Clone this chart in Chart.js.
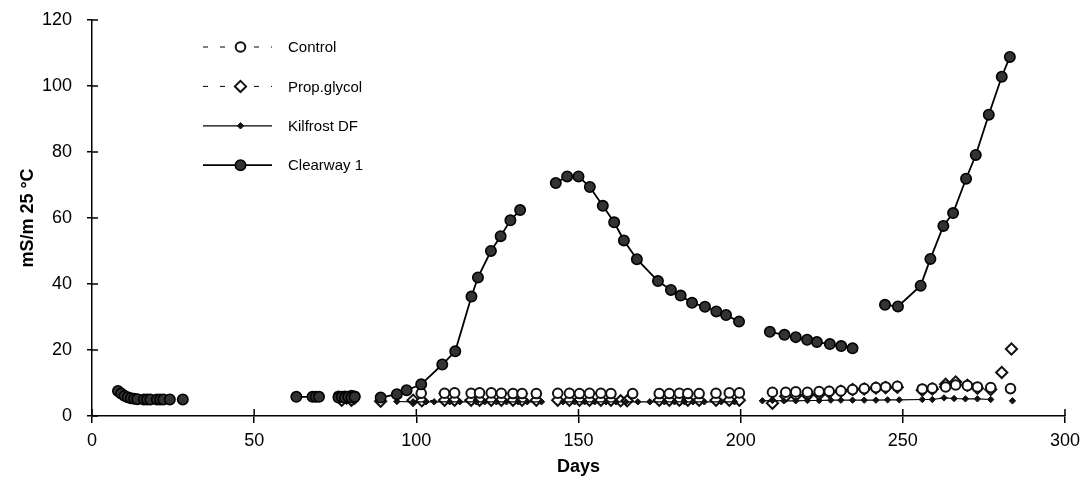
<!DOCTYPE html>
<html>
<head>
<meta charset="utf-8">
<script src="https://cdn.jsdelivr.net/npm/chart.js@4/dist/chart.umd.min.js"></script>
<style>
  html, body { margin: 0; padding: 0; background: #fff; }
  #wrap { width: 1087px; height: 492px; position: relative; }
</style>
</head>
<body>
<div id="wrap"><canvas id="c"></canvas></div>
<script>
// ---- Data (null = break in the line) ----
const seriesNames = ['Control', 'Prop.glycol', 'Kilfrost DF', 'Clearway 1'];

const xTicks = [0, 50, 100, 150, 200, 250, 300];
const yTicks = [0, 20, 40, 60, 80, 100, 120];

const clearDays = [8, 9, 10, 11, 12, 13, 14, 16, 17, 18, 20, 21, 22, 24, 26, 28, 45,
  63, 68, 69, 70, 73, 76, 77, 78, 79, 80, 81, 85,
  89, 94, 97, 101.5, 108, 112, 117, 119, 123, 126, 129, 132, 138,
  143, 146.5, 150, 153.5, 157.5, 161, 164, 168, 174.5, 178.5, 181.5, 185, 189, 192.5, 195.5, 199.5, 204,
  209, 213.5, 217, 220.5, 223.5, 227.5, 231, 234.5, 240,
  244.5, 248.5, 255.5, 258.5, 262.5, 265.5, 269.5, 272.5, 276.5, 280.5, 283];
const clearway = [7.6, 6.8, 6.1, 5.7, 5.4, 5.2, 5.1, 5.0, 5.0, 5.0, 5.0, 5.0, 5.0, 5.0, null, 5.0, null,
  5.8, 5.8, 5.8, 5.8, null, 5.6, 5.8, 5.6, 5.8, 5.6, 5.8, null,
  5.6, 6.6, 7.8, 9.6, 15.6, 19.6, 36.2, 42.0, 50.0, 54.5, 59.3, 62.4, null,
  70.6, 72.6, 72.6, 69.4, 63.7, 58.7, 53.2, 47.5, 40.9, 38.2, 36.5, 34.3, 33.1, 31.7, 30.6, 28.6, null,
  25.5, 24.6, 23.9, 23.1, 22.4, 21.8, 21.2, 20.5, null,
  33.7, 33.2, 39.5, 47.6, 57.6, 61.5, 71.9, 79.1, 91.3, 102.8, 108.8];

const controlDays = [76, 78, 80, 81, 85,
  101.5, 108.7, 111.8, 116.9, 119.5, 123.1, 126.2, 129.8, 132.6, 137, 140,
  143.6, 147.2, 150.3, 153.4, 156.9, 160, 163, 166.7, 170,
  174.9, 178, 181.1, 183.7, 187.2, 192.4, 196.5, 199.6, 205,
  209.8, 213.9, 217, 220.6, 224.2, 227.3, 230.9, 234.5, 238.1, 241.7, 244.7, 248.3, 252,
  256, 259.1, 263.2, 266.3, 269.9, 273, 277.1, 280, 283.2];
const control = [6.0, 6.0, 6.2, 6.0, null,
  6.9, 6.9, 7.0, 6.9, 7.0, 7.0, 6.9, 6.8, 6.8, 6.8, null,
  6.9, 6.9, 6.8, 6.9, 6.9, 6.8, null, 6.8, null,
  6.8, 6.8, 6.9, 6.8, 6.8, 6.9, 7.0, 7.0, null,
  7.2, 7.2, 7.3, 7.2, 7.4, 7.5, 7.6, 8.0, 8.3, 8.6, 8.8, 9.0, null,
  8.2, 8.4, 8.8, 9.4, 9.2, 8.8, 8.6, null, 8.3];

const propDays = [77, 80, 85, 89, 92,
  99, 101.7, 108.7, 111.8, 116.9, 119.5, 123.1, 126.2, 129.8, 132.6, 137, 140,
  143.6, 147.2, 150.3, 153.4, 156.9, 160, 163, 165, 170,
  174.9, 178, 181.1, 183.7, 187.2, 192.4, 196.5, 199.6, 205,
  209.8, 213.9, 217, 220.6, 224.2, 227.3, 230.9, 234.5, 238.1, 241.7, 244.7, 248.3, 252,
  256, 259.1, 263.2, 266.3, 269.9, 273, 277.1, 279, 280.5, 282, 283.5];
const propGlycol = [4.8, 4.8, null, 4.5, null,
  4.8, 4.6, 4.8, 4.8, 4.8, 4.8, 4.8, 4.8, 4.8, 4.8, 4.8, null,
  4.8, 4.8, 4.8, 4.8, 4.8, 4.8, 4.6, 4.6, null,
  4.8, 4.8, 4.8, 4.8, 4.8, 4.8, 4.8, 4.8, null,
  3.9, 6.0, 6.2, 6.3, 6.6, 7.2, 7.5, 8.0, 8.2, 8.5, 8.6, 8.7, null,
  7.8, 8.2, 9.6, 10.3, 9.3, 8.4, 8.0, null, 13.2, null, 20.3];

const kilDays = [78.5, 81, 85,
  94, 99, 103, 105.5, 110.3, 113.4, 118.5, 121.1, 124.7, 127.8, 131.4, 134.2, 138.6, 141,
  145.2, 148.8, 151.9, 155, 158.5, 161.6, 164.6, 168.3, 172, 176.5, 179.6, 182.7, 185.3, 188.8, 194, 198.1, 203,
  206.7, 209.8, 213.3, 217, 220.6, 224.2, 227.8, 230.9, 234.5, 238.1, 241.7, 245.3, 248.9,
  256, 259.1, 262.7, 265.8, 269.3, 273, 277.1, 280, 283.8];
const kilfrost = [4.4, 4.4, null,
  4.4, 4.3, 4.3, 4.3, 4.3, 4.3, 4.3, 4.3, 4.3, 4.3, 4.3, 4.3, 4.3, null,
  4.3, 4.3, 4.3, 4.3, 4.3, 4.3, 4.3, 4.3, 4.3, 4.3, 4.3, 4.3, 4.3, 4.3, 4.3, 4.3, null,
  4.6, 4.7, 4.6, 4.6, 4.7, 4.7, 4.8, 4.8, 4.8, 4.8, 4.8, 4.9, 4.9,
  5.0, 5.0, 5.5, 5.3, 5.2, 5.2, 5.0, null, 4.6];

function pts(days, vals) { return days.map((d, i) => ({ x: d, y: vals[i] })); }

const FONT = "'Liberation Sans', Arial, sans-serif";

// inward tick marks crossing the axes
const crossTicks = {
  id: 'crossTicks',
  afterDraw(chart) {
    const { ctx, chartArea: a, scales } = chart;
    ctx.save();
    ctx.strokeStyle = '#000';
    ctx.lineWidth = 1.5;
    ctx.beginPath();
    xTicks.forEach(v => {
      const px = scales.x.getPixelForValue(v);
      ctx.moveTo(px, a.bottom); ctx.lineTo(px, a.bottom - 7);
    });
    yTicks.forEach(v => {
      const py = scales.y.getPixelForValue(v);
      ctx.moveTo(a.left, py); ctx.lineTo(a.left + 6, py);
    });
    ctx.stroke();
    ctx.restore();
  }
};

// legend drawn inside the plot area
const innerLegend = {
  id: 'innerLegend',
  afterDraw(chart) {
    const { ctx, chartArea: a } = chart;
    const x0 = a.left + 111, lineLen = 69, textX = a.left + 196;
    ctx.save();
    chart.data.datasets.forEach((ds, i) => {
      const y = a.top + 27 + i * 39.4;
      ctx.beginPath();
      ctx.setLineDash(ds.borderDash || []);
      ctx.lineWidth = ds.borderWidth;
      ctx.strokeStyle = ds.borderColor;
      ctx.moveTo(x0, y); ctx.lineTo(x0 + lineLen, y);
      ctx.stroke();
      ctx.setLineDash([]);
      ctx.fillStyle = ds.pointBackgroundColor;
      ctx.strokeStyle = ds.pointBorderColor;
      ctx.lineWidth = ds.pointBorderWidth;
      ctx.beginPath();
      Chart.helpers.drawPoint(ctx, {
        pointStyle: ds.pointStyle, radius: ds.pointRadius, borderWidth: ds.pointBorderWidth, rotation: 0
      }, x0 + lineLen / 2 + 3, y);
      ctx.fillStyle = '#000';
      ctx.font = '15px ' + FONT;
      ctx.textBaseline = 'middle';
      ctx.textAlign = 'left';
      ctx.fillText(ds.label, textX, y + 1);
    });
    ctx.restore();
  }
};

new Chart(document.getElementById('c'), {
  type: 'line',
  data: {
    datasets: [
      {
        label: seriesNames[0], data: pts(controlDays, control), order: 1,
        borderColor: '#000', borderWidth: 1, borderDash: [5, 12],
        pointStyle: 'circle', pointRadius: 4.8, pointBorderWidth: 2,
        pointBackgroundColor: '#fff', pointBorderColor: '#111', spanGaps: false
      },
      {
        label: seriesNames[1], data: pts(propDays, propGlycol), order: 3,
        borderColor: '#000', borderWidth: 1, borderDash: [5, 12],
        pointStyle: 'rectRot', pointRadius: 5.6, pointBorderWidth: 2,
        pointBackgroundColor: '#fff', pointBorderColor: '#111', spanGaps: false
      },
      {
        label: seriesNames[2], data: pts(kilDays, kilfrost), order: 2,
        borderColor: '#000', borderWidth: 1.2,
        pointStyle: 'rectRot', pointRadius: 3.2, pointBorderWidth: 1,
        pointBackgroundColor: '#111', pointBorderColor: '#111', spanGaps: false
      },
      {
        label: seriesNames[3], data: pts(clearDays, clearway), order: 0,
        borderColor: '#000', borderWidth: 1.8,
        pointStyle: 'circle', pointRadius: 5.2, pointBorderWidth: 1.6,
        pointBackgroundColor: '#333', pointBorderColor: '#000', spanGaps: false
      }
    ]
  },
  options: {
    responsive: true,
    maintainAspectRatio: false,
    animation: false,
    events: [],
    layout: { padding: { top: 20, right: 21, left: 0, bottom: 0 } },
    plugins: { legend: { display: false }, tooltip: { enabled: false } },
    elements: { line: { tension: 0 } },
    scales: {
      x: {
        type: 'linear', min: 0, max: 300,
        afterBuildTicks(s) { s.ticks = xTicks.map(v => ({ value: v })); },
        afterFit(s) { s.height = 76; },
        ticks: { color: '#000', font: { family: FONT, size: 18 }, padding: 7, maxRotation: 0 },
        grid: { display: true, drawOnChartArea: false, drawTicks: true, tickLength: 7, color: '#000', lineWidth: 1.5 },
        border: { display: true, color: '#000', width: 1.5 },
        title: { display: true, text: 'Days', color: '#000', font: { family: FONT, size: 18, weight: 'bold' }, padding: { top: 0, bottom: 14 } }
      },
      y: {
        type: 'linear', min: 0, max: 120,
        afterBuildTicks(s) { s.ticks = yTicks.map(v => ({ value: v })); },
        afterFit(s) { s.width = 92; s.paddingTop = 0; s.paddingBottom = 0; },
        ticks: { color: '#000', font: { family: FONT, size: 18 }, padding: 15 },
        grid: { display: true, drawOnChartArea: false, drawTicks: true, tickLength: 5, color: '#000', lineWidth: 1.5 },
        border: { display: true, color: '#000', width: 1.5 },
        title: { display: true, text: 'mS/m 25 °C', color: '#000', font: { family: FONT, size: 18, weight: 'bold' }, padding: { top: 17, bottom: 0 } }
      }
    }
  },
  plugins: [crossTicks, innerLegend]
});
</script>
</body>
</html>
